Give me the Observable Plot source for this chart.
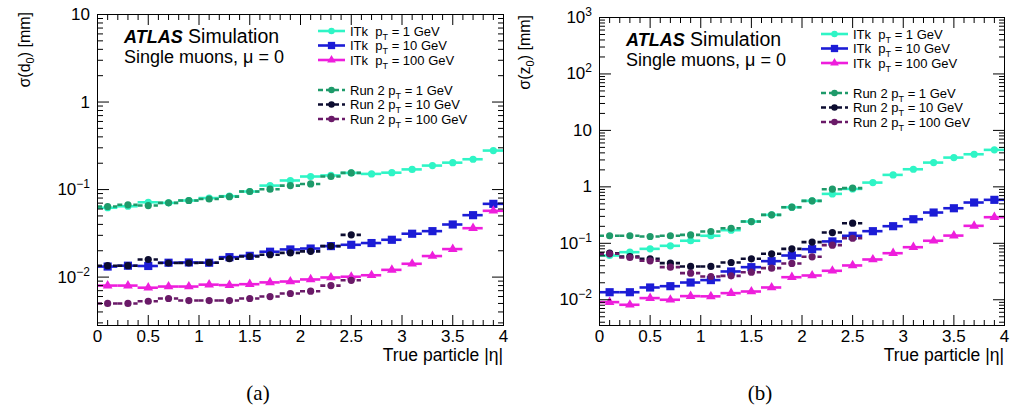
<!DOCTYPE html>
<html><head><meta charset="utf-8">
<script src="https://cdn.jsdelivr.net/npm/d3@7"></script>
<script src="https://cdn.jsdelivr.net/npm/@observablehq/plot@0.6"></script>
<style>
body{margin:0;background:#fff;font-family:"Liberation Sans",Arial,sans-serif;}
#wrap{position:relative;width:1013px;height:412px;overflow:hidden;}
.panel{position:absolute;top:0;}
.panel svg{overflow:visible;}
.cap{position:absolute;top:381px;font-family:"Liberation Serif","Times New Roman",serif;font-size:21px;transform:translateX(-50%);}
</style></head><body><div id="wrap"></div>
<script>
// ---- data ----
const eta = [0.1,0.3,0.5,0.7,0.9,1.1,1.3,1.5,1.7,1.9,2.1,2.3,2.5,2.7,2.9,3.1,3.3,3.5,3.7,3.9];
const etaRun2 = [0.1,0.3,0.5,0.7,0.9,1.1,1.3,1.5,1.7,1.9,2.1,2.3,2.5];
const binHalfWidth = 0.1;

// (a) sigma(d0) [mm]
const d0_itk1   = [0.062,0.0645,0.0716,0.0705,0.075,0.080,0.084,0.095,0.111,0.127,0.141,0.145,0.155,0.151,0.156,0.170,0.188,0.203,0.222,0.279];
const d0_itk10  = [0.0132,0.0135,0.0134,0.0146,0.0147,0.0146,0.0169,0.0175,0.0195,0.0207,0.0212,0.0226,0.0234,0.0245,0.0267,0.0313,0.0335,0.0399,0.051,0.0687];
const d0_itk100 = [0.0080,0.0080,0.00757,0.0078,0.0078,0.0082,0.0081,0.0083,0.0087,0.0089,0.0094,0.0099,0.0101,0.0105,0.0121,0.0142,0.0174,0.0209,0.0362,0.0572];
const d0_run1   = [0.064,0.067,0.0657,0.0705,0.075,0.078,0.083,0.095,0.101,0.111,0.116,0.141,0.155];
const d0_run10  = [0.0135,0.0135,0.0159,0.0145,0.0145,0.0146,0.0162,0.0172,0.018,0.0189,0.0197,0.0226,0.0304];
const d0_run100 = [0.0050,0.0050,0.0053,0.0057,0.0054,0.0054,0.0054,0.0057,0.0060,0.0065,0.0069,0.0080,0.0092];

// (b) sigma(z0) [mm]
const z0_itk1   = [0.0608,0.0697,0.0798,0.0903,0.111,0.136,0.171,0.243,0.319,0.436,0.565,0.751,0.92,1.19,1.63,2.05,2.69,3.30,3.78,4.52];
const z0_itk10  = [0.0136,0.0136,0.0165,0.0174,0.0202,0.0223,0.0317,0.0378,0.0483,0.0608,0.0787,0.108,0.136,0.164,0.201,0.267,0.351,0.418,0.528,0.589];
const z0_itk100 = [0.00908,0.00815,0.0107,0.0100,0.0116,0.0115,0.0131,0.014,0.0165,0.0251,0.0269,0.0326,0.0405,0.0517,0.0668,0.0853,0.111,0.137,0.204,0.29];
const z0_run1   = [0.136,0.136,0.132,0.136,0.141,0.162,0.185,0.243,0.319,0.436,0.565,0.908,0.95];
const z0_run10  = [0.0668,0.0584,0.0532,0.0445,0.0389,0.0389,0.0457,0.0532,0.0652,0.0798,0.105,0.155,0.227];
const z0_run100 = [0.0652,0.0561,0.049,0.0378,0.0296,0.0258,0.0265,0.0308,0.0363,0.044,0.0577,0.0927,0.123];

// legend / labels
const seriesNames = ["ITk","ITk","ITk","Run 2","Run 2","Run 2"];
const seriesPt = ["1 GeV","10 GeV","100 GeV","1 GeV","10 GeV","100 GeV"];
const xTickLabels = ["0","0.5","1","1.5","2","2.5","3","3.5","4"];
const xMajor = [0,0.5,1,1.5,2,2.5,3,3.5,4];
const xMinor = [0.1,0.2,0.3,0.4,0.6,0.7,0.8,0.9,1.1,1.2,1.3,1.4,1.6,1.7,1.8,1.9,2.1,2.2,2.3,2.4,2.6,2.7,2.8,2.9,3.1,3.2,3.3,3.4,3.6,3.7,3.8,3.9];
const yMajorA = [0.01,0.1,1,10];
const yLabelsA = [["10","−2"],["10","−1"],["1",""],["10",""]];
const yMajorB = [0.01,0.1,1,10,100,1000];
const yLabelsB = [["10","−2"],["10","−1"],["1",""],["10",""],["10","2"],["10","3"]];

// ---- styles ----
const colors = ["#2ff5c6","#1c1cd6","#ee1edc","#1e9a6a","#0c0c30","#6a1a68"];
const symbols = ["circle","square","triangle","circle","circle","circle"];
const radii = [3.6,4.6,3.6,3.6,3.6,3.6];
const dashes = [null,null,null,"5,3","5,3","5,3"];

function minorsFor(majors, lo, hi){
  const out=[];
  for(const m of majors.concat([majors[0]/10])) for(let k=2;k<=9;k++){const v=m*k; if(v>lo&&v<hi) out.push(v);}
  return out;
}

function makePanel(cfg){
  const {width, marginLeft, marginRight, marginTop, yDomain, yMajor, yLabels, arrays, xs, ylabel, legendX, legendY, atlasX, atlasY} = cfg;
  const height = 370, bottom = 325;
  const yMinor = minorsFor(yMajor, yDomain[0], yDomain[1]);
  const marks = [];
  arrays.forEach((vals,s)=>{
    const xv = xs[s];
    const rows = vals.map((v,i)=>({x:xv[i], x1:xv[i]-binHalfWidth, x2:xv[i]+binHalfWidth, y:v}));
    marks.push(Plot.ruleY(rows,{x1:"x1",x2:"x2",y:"y",stroke:colors[s],strokeWidth:2.6,strokeDasharray:dashes[s]}));
    marks.push(Plot.dot(rows,{x:"x",y:"y",symbol:symbols[s],r:radii[s],fill:colors[s],stroke:"none"}));
  });
  const plot = Plot.plot({
    width, height, marginLeft, marginRight, marginTop, marginBottom: height-bottom,
    x:{domain:[0,4], label:null},
    y:{type:"log", domain:yDomain, label:null},
    style:{fontFamily:"Liberation Sans, Arial, sans-serif", fontSize:"17px", background:"transparent", overflow:"visible", color:"#000"},
    marks:[
      ...marks,
      Plot.frame({stroke:"#000", strokeWidth:1}),
      Plot.axisX(xMinor,{anchor:"bottom",tickSize:-5,tickFormat:()=>""}),
      Plot.axisX(xMajor,{anchor:"bottom",tickSize:-10,tickFormat:()=>""}),
      Plot.axisX(xMinor,{anchor:"top",tickSize:-5,tickFormat:()=>""}),
      Plot.axisX(xMajor,{anchor:"top",tickSize:-10,tickFormat:()=>""}),
      Plot.axisX(xMajor,{anchor:"bottom",tickSize:0,tickPadding:4,tickFormat:(d,i)=>xTickLabels[i],fontSize:17}),
      Plot.axisY(yMinor,{anchor:"left",tickSize:-6,tickFormat:()=>""}),
      Plot.axisY(yMajor,{anchor:"left",tickSize:-12,tickFormat:()=>""}),
      Plot.axisY(yMinor,{anchor:"right",tickSize:-6,tickFormat:()=>""}),
      Plot.axisY(yMajor,{anchor:"right",tickSize:-12,tickFormat:()=>""})
    ]
  });
  const svg = d3.select(plot);
  const ys = plot.scale("y");
  const ff = "Liberation Sans, Arial, sans-serif";
  const g = svg.append("g").attr("text-anchor","start").attr("font-family",ff).attr("fill","#000");
  // y tick labels
  yMajor.forEach((v,i)=>{
    const t = g.append("text").attr("x",marginLeft-7).attr("y",ys.apply(v)+6)
      .attr("text-anchor","end").attr("font-size",17);
    t.append("tspan").text(yLabels[i][0]);
    if(yLabels[i][1]) t.append("tspan").attr("dy",-7).attr("font-size",12).text(yLabels[i][1]);
  });
  // y axis title
  const yt = g.append("text").attr("transform",`translate(${ylabel.x},${marginTop-2}) rotate(-90)`)
    .attr("text-anchor","end").attr("font-size",16);
  yt.append("tspan").text(ylabel.main);
  yt.append("tspan").attr("dy",4).attr("font-size",11).text("0");
  yt.append("tspan").attr("dy",-4).text(") [mm]");
  // x axis title
  g.append("text").attr("x",width-marginRight).attr("y",361).attr("text-anchor","end")
    .attr("font-size",17.5).text("True particle |η|");
  // ATLAS label
  const a = g.append("text").attr("x",atlasX).attr("y",atlasY).attr("font-size",18);
  a.append("tspan").attr("font-weight","bold").attr("font-style","italic").text("ATLAS");
  a.append("tspan").attr("font-size",19.5).text(" Simulation");
  g.append("text").attr("x",atlasX).attr("y",atlasY+20).attr("font-size",18).text("Single muons, μ = 0");
  // legend
  const rowY = [0,14.5,29,59,73.5,88];
  seriesNames.forEach((nm,s)=>{
    const y = legendY + rowY[s];
    g.append("line").attr("x1",legendX).attr("x2",legendX+27).attr("y1",y).attr("y2",y)
      .attr("stroke",colors[s]).attr("stroke-width",2.6).attr("stroke-dasharray",dashes[s]);
    const sym = d3.symbol().type(symbols[s]==="square"?d3.symbolSquare:symbols[s]==="triangle"?d3.symbolTriangle:d3.symbolCircle)
      .size(Math.PI*radii[s]*radii[s]*0.8);
    g.append("path").attr("d",sym()).attr("transform",`translate(${legendX+13.5},${y})`).attr("fill",colors[s]);
    const t = g.append("text").attr("x",legendX+32).attr("y",y+4.5).attr("font-size",13);
    t.append("tspan").text(nm + (nm==="ITk" ? "  p" : " p"));
    t.append("tspan").attr("dy",4).attr("font-size",9).text("T");
    t.append("tspan").attr("dy",-4).text(" = " + seriesPt[s]);
  });
  return plot;
}

const wrap = document.getElementById("wrap");
const pA = makePanel({width:506, marginLeft:97, marginRight:3, marginTop:14, yDomain:[0.0028,10], yMajor:yMajorA, yLabels:yLabelsA,
  arrays:[d0_itk1,d0_itk10,d0_itk100,d0_run1,d0_run10,d0_run100], xs:[eta,eta,eta,etaRun2,etaRun2,etaRun2],
  ylabel:{x:30, main:"σ(d"}, legendX:318, legendY:31, atlasX:124, atlasY:43});
const pB = makePanel({width:507, marginLeft:93, marginRight:9, marginTop:17, yDomain:[0.0035,1000], yMajor:yMajorB, yLabels:yLabelsB,
  arrays:[z0_itk1,z0_itk10,z0_itk100,z0_run1,z0_run10,z0_run100], xs:[eta,eta,eta,etaRun2,etaRun2,etaRun2],
  ylabel:{x:24, main:"σ(z"}, legendX:315, legendY:34, atlasX:120, atlasY:46});
const dA = document.createElement("div"); dA.className="panel"; dA.style.left="0px"; dA.appendChild(pA); wrap.appendChild(dA);
const dB = document.createElement("div"); dB.className="panel"; dB.style.left="506px"; dB.appendChild(pB); wrap.appendChild(dB);
const cA = document.createElement("div"); cA.className="cap"; cA.style.left="258px"; cA.textContent="(a)"; wrap.appendChild(cA);
const cB = document.createElement("div"); cB.className="cap"; cB.style.left="760px"; cB.textContent="(b)"; wrap.appendChild(cB);
</script></body></html>
